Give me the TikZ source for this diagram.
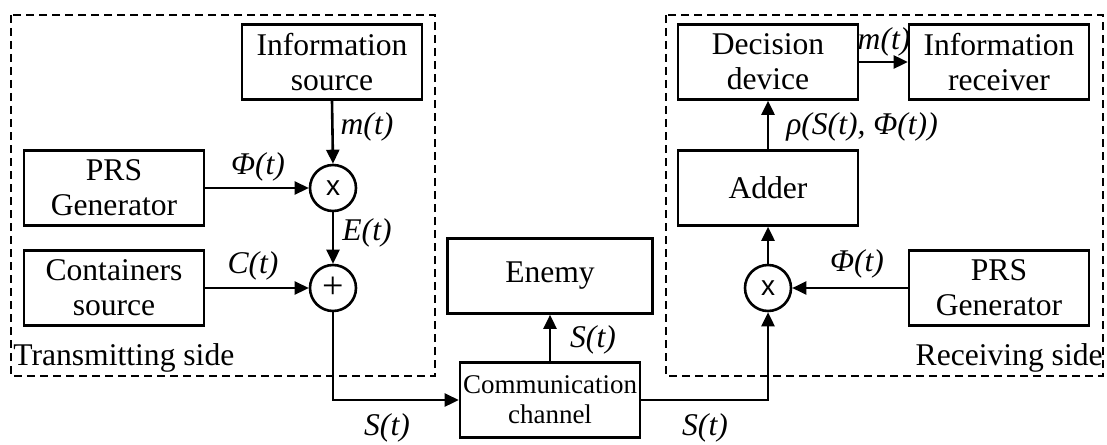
\documentclass[tikz,border=0pt]{standalone}
\usepackage{fontspec}
\setmainfont{Liberation Serif}
\setsansfont{Liberation Sans}
\usepackage{tikz}
\usetikzlibrary{arrows.meta,positioning}

\begin{document}
\begin{tikzpicture}[x=0.5pt,y=-0.5pt,
		block/.style={draw,line width=1.3pt,minimum width=90pt,minimum height=37.5pt,
			align=center,font=\fontsize{15.8}{17.5}\selectfont,inner sep=1pt},
		sum/.style={draw,circle,line width=1.3pt,minimum size=23pt,inner sep=0pt,
			font=\sffamily\fontsize{14}{14}\selectfont},
		sig/.style={font=\fontsize{15.8}{17}\selectfont\itshape,inner sep=0pt},
		side/.style={draw,dashed,line width=0.8pt,dash pattern=on 4pt off 2.5pt},
		flow/.style={line width=1.3pt,-{Triangle[length=7pt,width=6.5pt]}}]
		\useasboundingbox (0,0) rectangle (1107,444);
		
		% transmitting side
		\draw[side] (11,15) rectangle (435,376);
		\node[anchor=west,inner sep=0pt,font=\fontsize{15.8}{17}\selectfont] (tside) at (13,358) {Transmitting side};
		
		\node[block] (isrc) at (332,62) {Information\\source};
		\node[block] (prs1) at (114,188) {PRS\\Generator};
		\node[block] (csrc) at (114,288) {Containers\\source};
		\node[sum] (mul1) at (333,188) {x};
		\node[sum,font=\rmfamily\fontsize{19}{19}\selectfont] (add1) at (333,288) {+};
		
		\draw[flow] (isrc.south) -- (mul1.north);
		\draw[flow] (prs1.east) -- (mul1.west);
		\draw[flow] (mul1.south) -- (add1.north);
		\draw[flow] (csrc.east) -- (add1.west);
		\node[sig] (lm1) at (367,127) {m(t)};
		\node[sig] (lphi1) at (258,167) {Φ(t)};
		\node[sig] (le) at (367,233) {E(t)};
		\node[sig] (lc) at (253,266) {C(t)};
		
		% channel and enemy
		\node[block,minimum width=102.5pt] (enemy) at (550,276) {Enemy};
		\node[block,font=\fontsize{13.5}{15}\selectfont] (chan) at (550,400) {Communication\\channel};
		\draw[flow] (add1.south) |- (chan.west);
		\draw[flow] (chan.north) -- (enemy.south);
		\node[sig] (ls1) at (387,428) {S(t)};
		\node[sig] (ls2) at (593,340) {S(t)};
		\node[sig] (ls3) at (705,428) {S(t)};
		
		% receiving side
		\draw[side] (666,15) rectangle (1103,376);
		\node[anchor=east,inner sep=0pt,font=\fontsize{15.8}{17}\selectfont] (rside) at (1103,358) {Receiving side};
		
		\node[block] (dec) at (768,62) {Decision\\device};
		\node[block] (irecv) at (999,62) {Information\\receiver};
		\node[block] (adder) at (768,188) {Adder};
		\node[sum] (mul2) at (768,288) {x};
		\node[block] (prs2) at (999,288) {PRS\\Generator};
		
		\draw[flow] (chan.east) -| (mul2.south);
		\draw[flow] (prs2.west) -- (mul2.east);
		\draw[flow] (mul2.north) -- (adder.south);
		\draw[flow] (adder.north) -- (dec.south);
		\draw[flow] (dec.east) -- (irecv.west);
		\node[sig] (lm2) at (884,42) {m(t)};
		\node[sig] (lrho) at (862,127) {ρ(S(t), Φ(t))};
		\node[sig] (lphi2) at (857,264) {Φ(t)};
		
	\end{tikzpicture}
\end{document}
